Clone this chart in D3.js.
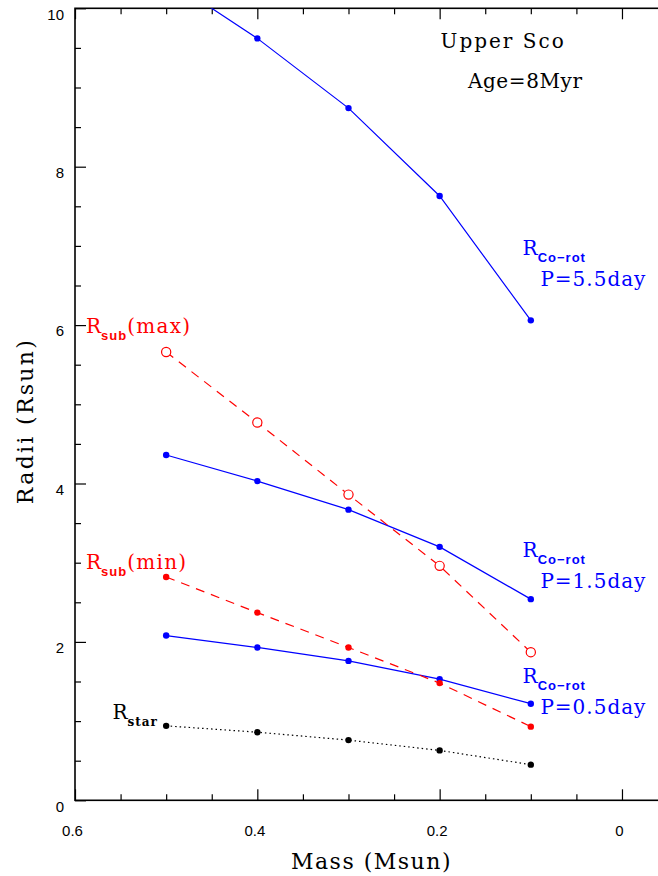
<!DOCTYPE html>
<html>
<head>
<meta charset="utf-8">
<script src="https://cdn.jsdelivr.net/npm/d3@7"></script>
<style>
  body { margin: 0; background: #fff; }
  svg { display: block; overflow: hidden; }
  .tick text { font-family: "Liberation Sans", Arial, sans-serif; font-size: 15px; fill: #000; }
  .serif { font-family: "DejaVu Serif", serif; }
</style>
</head>
<body>
<div id="root"></div>
<script>
// stellar mass (Msun)
const masses = [0.5, 0.4, 0.3, 0.2, 0.1];

// radii in Rsun
const coRot55 = [10.38, 9.62, 8.74, 7.63, 6.06];
const coRot15 = [4.36, 4.03, 3.67, 3.20, 2.54];
const coRot05 = [2.08, 1.93, 1.76, 1.53, 1.22];
const subMax = [5.66, 4.77, 3.86, 2.96, 1.87];
const subMin = [2.82, 2.37, 1.93, 1.48, 0.93];
const rStar = [0.94, 0.86, 0.76, 0.63, 0.45];

const xMajorTicks = [0.6, 0.4, 0.2, 0];
const xMinorTicks = [0.55, 0.5, 0.45, 0.35, 0.3, 0.25, 0.15, 0.1, 0.05];
const yMajorTicks = [0, 2, 4, 6, 8, 10];
const yMinorTicks = [0.5, 1, 1.5, 2.5, 3, 3.5, 4.5, 5, 5.5, 6.5, 7, 7.5, 8.5, 9, 9.5];

radiiChart(window.d3);

function radiiChart(d3) {
  const width = 658;
  const height = 876;
  const margin = { top: 8.3, left: 75 };
  const plotW = 588;
  const plotH = 792;

  const svg = d3.select("#root").append("svg")
    .attr("width", width)
    .attr("height", height);

  const x = d3.scaleLinear().domain([0.6, -0.045]).range([0, plotW]);
  const y = d3.scaleLinear().domain([0, 10]).range([plotH, 0]);

  const chart = svg.append("g")
    .attr("transform", `translate(${margin.left}, ${margin.top})`);

  chart.append("clipPath")
    .attr("id", "plot-clip")
    .append("rect")
    .attr("width", plotW)
    .attr("height", plotH);

  // axes: major + minor, bottom/top/left
  const addAxis = (axis, transform) => {
    const g = chart.append("g").attr("transform", transform).call(axis);
    g.select(".domain").remove();
    g.selectAll("line").attr("stroke", "#000").attr("stroke-width", 1.2);
    return g;
  };

  const xAx = addAxis(d3.axisBottom(x).tickValues(xMajorTicks).tickSize(-11).tickPadding(25)
    .tickFormat(d3.format("")), `translate(0, ${plotH})`);
  xAx.selectAll("text").attr("dx", -3);
  addAxis(d3.axisBottom(x).tickValues(xMinorTicks).tickSize(-6).tickFormat(""),
    `translate(0, ${plotH})`);
  addAxis(d3.axisTop(x).tickValues(xMajorTicks).tickSize(-11).tickFormat(""), "translate(0,0)");
  addAxis(d3.axisTop(x).tickValues(xMinorTicks).tickSize(-6).tickFormat(""), "translate(0,0)");

  const yAx = addAxis(d3.axisLeft(y).tickValues(yMajorTicks).tickSize(-11).tickPadding(11),
    "translate(0,0)");
  yAx.selectAll("text").attr("dy", "0.72em");
  addAxis(d3.axisLeft(y).tickValues(yMinorTicks).tickSize(-6).tickFormat(""), "translate(0,0)");

  // frame
  chart.append("rect")
    .attr("width", plotW)
    .attr("height", plotH)
    .attr("fill", "none")
    .attr("stroke", "#000")
    .attr("stroke-width", 1.6);

  // series
  const series = [
    { values: coRot55, color: "#0000ff", dash: null, open: false },
    { values: coRot15, color: "#0000ff", dash: null, open: false },
    { values: coRot05, color: "#0000ff", dash: null, open: false },
    { values: subMax, color: "#ff0000", dash: "9,7", open: true },
    { values: subMin, color: "#ff0000", dash: "9,7", open: false },
    { values: rStar, color: "#000000", dash: "1.5,3", open: false },
  ];

  const line = d3.line()
    .x(d => x(d[0]))
    .y(d => y(d[1]));

  const marks = chart.append("g").attr("clip-path", "url(#plot-clip)");

  series.forEach(s => {
    const pts = masses.map((m, i) => [m, s.values[i]]);
    marks.append("path")
      .datum(pts)
      .attr("d", line)
      .attr("fill", "none")
      .attr("stroke", s.color)
      .attr("stroke-width", 1.2)
      .attr("stroke-dasharray", s.dash);

    marks.selectAll(null)
      .data(pts)
      .join("circle")
      .attr("cx", d => x(d[0]))
      .attr("cy", d => y(d[1]))
      .attr("r", s.open ? 4.6 : 3.2)
      .attr("fill", s.open ? "#fff" : s.color)
      .attr("stroke", s.color)
      .attr("stroke-width", s.open ? 1.2 : 0);
  });

  // annotations
  const labels = [
    { x: 0.199, y: 9.50, text: "Upper Sco", color: "#000", spacing: 2 },
    { x: 0.169, y: 8.99, text: "Age=8Myr", color: "#000", spacing: 0.6 },
    { x: 0.588, y: 5.90, text: "R", sub: "sub", rest: "(max)", color: "#ff0000" },
    { x: 0.588, y: 2.92, text: "R", sub: "sub", rest: "(min)", color: "#ff0000" },
    { x: 0.559, y: 1.03, text: "R", sub: "star", color: "#000", serifSub: true },
    { x: 0.109, y: 6.89, text: "R", sub: "Co\u2212rot", color: "#0000ff" },
    { x: 0.0895, y: 6.49, text: "P=5.5day", color: "#0000ff", spacing: 1 },
    { x: 0.109, y: 3.07, text: "R", sub: "Co\u2212rot", color: "#0000ff" },
    { x: 0.0895, y: 2.68, text: "P=1.5day", color: "#0000ff", spacing: 1 },
    { x: 0.109, y: 1.485, text: "R", sub: "Co\u2212rot", color: "#0000ff" },
    { x: 0.0895, y: 1.09, text: "P=0.5day", color: "#0000ff", spacing: 1 },
  ];

  labels.forEach(l => {
    const t = chart.append("text")
      .attr("class", "serif")
      .attr("x", x(l.x))
      .attr("y", y(l.y))
      .attr("fill", l.color)
      .style("font-size", "20px")
      .style("letter-spacing", `${l.spacing || 0}px`)
      .text(l.text);
    if (l.sub) {
      t.append("tspan")
        .attr("dy", 7)
        .style("font-family", l.serifSub ? "'DejaVu Serif', serif" : "'Liberation Sans', Arial, sans-serif")
        .style("font-weight", "bold")
        .style("font-size", l.serifSub ? "12px" : "13px")
        .style("letter-spacing", "1px")
        .text(l.sub);
    }
    if (l.rest) {
      t.append("tspan")
        .attr("dy", -7)
        .style("letter-spacing", "1.3px")
        .text(l.rest);
    }
  });

  // axis titles
  svg.append("text")
    .attr("class", "serif")
    .attr("x", margin.left + x(0.3) + 23)
    .attr("y", 869)
    .attr("text-anchor", "middle")
    .style("font-size", "22px")
    .style("letter-spacing", "1.5px")
    .text("Mass (Msun)");

  svg.append("text")
    .attr("class", "serif")
    .attr("transform", `translate(33, 421) rotate(-90)`)
    .attr("text-anchor", "middle")
    .style("font-size", "22px")
    .style("letter-spacing", "2.3px")
    .text("Radii (Rsun)");
}
</script>
</body>
</html>
